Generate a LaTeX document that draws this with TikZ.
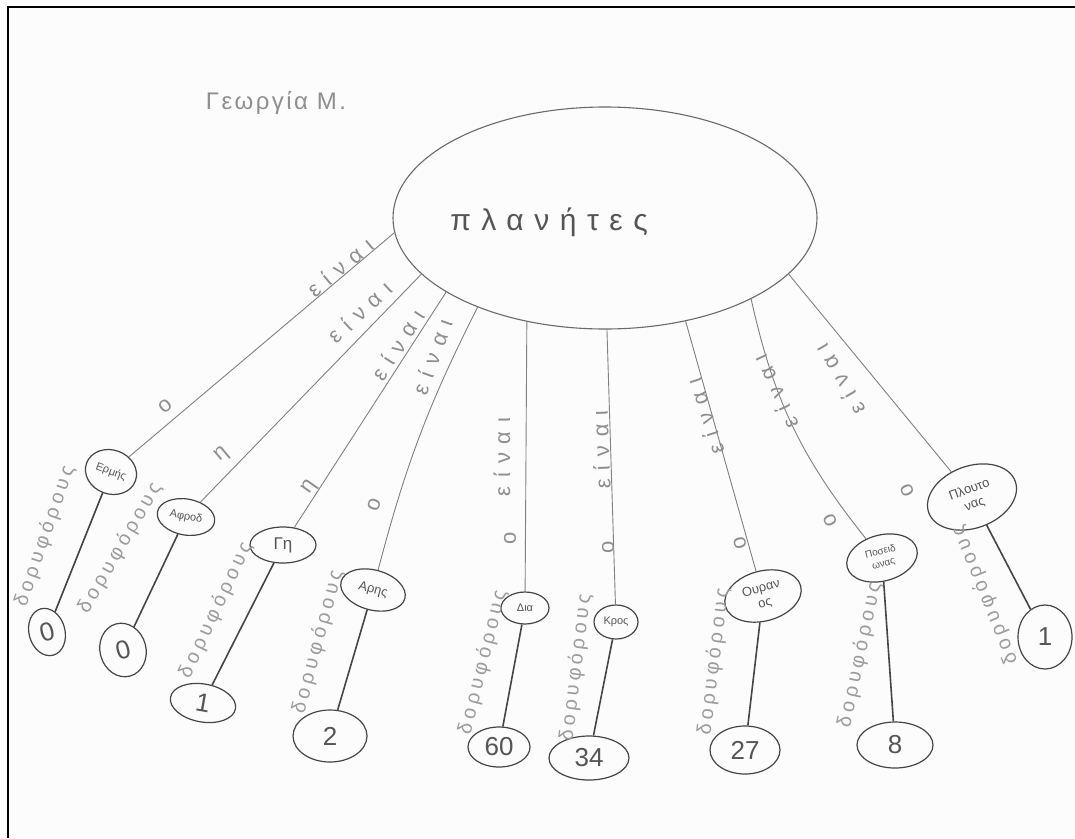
\documentclass[tikz,border=0pt]{standalone}
\usepackage{fontspec}
\setmainfont{Liberation Sans}
\newfontfamily\handA[LetterSpace=40]{Liberation Sans}
\newfontfamily\handB[LetterSpace=20]{Liberation Sans}
\newfontfamily\handC[LetterSpace=35]{Liberation Sans}
\newfontfamily\handD[LetterSpace=10]{Liberation Sans}
\usetikzlibrary{shapes.geometric}
\definecolor{paper}{HTML}{FDFCFD}
\definecolor{pencil}{HTML}{808080}
\definecolor{dark}{HTML}{454545}
\definecolor{outline}{HTML}{6A6A6A}
\definecolor{ink}{HTML}{555555}
\definecolor{light}{HTML}{8E8E8E}
\definecolor{lighter}{HTML}{9C9C9C}
\begin{document}
\begin{tikzpicture}[x=1pt,y=-1pt,
  conn/.style={draw=pencil, line width=0.9pt},
  stem/.style={draw=dark, line width=1.6pt},
  bigell/.style={ellipse, draw=outline, line width=1.1pt, minimum width=424pt, minimum height=222pt, inner sep=0pt},
  pnode/.style={ellipse, draw=dark, line width=1.2pt, inner sep=0pt, font=\fontsize{11}{11}\selectfont, text=ink, align=center},
  nnode/.style={ellipse, draw=dark, line width=1.2pt, inner sep=0pt, font=\fontsize{26}{26}\selectfont, text=ink},
  einai/.style={font=\handA\fontsize{22}{22}\selectfont, text=light, inner sep=0pt},
  art/.style={font=\fontsize{22}{22}\selectfont, text=light, inner sep=0pt},
  dor/.style={font=\handB\fontsize{20}{20}\selectfont, text=lighter, inner sep=0pt},
  maintext/.style={font=\handC\fontsize{30}{30}\selectfont, text=ink, inner sep=0pt},
  titletext/.style={font=\handD\fontsize{24}{24}\selectfont, text=light, inner sep=0pt},
  frame/.style={draw=black, line width=2.5pt}
]
\useasboundingbox (0,0) rectangle (1075,838);
\fill[paper] (0,0) rectangle (1075,838);
\draw[frame] (8,838) -- (8,7) -- (1075,7);

% title and central concept
\node[titletext] (title) at (276,103) {Γεωργία Μ.};
\node[bigell] (pl) at (605,218) {};
\node[maintext] (plt) at (549,222) {πλανήτες};

% planets
\node[pnode, minimum width=52pt, minimum height=44pt, rotate=-20] (erm) at (111,472) {Ερμής};
\node[pnode, minimum width=58pt, minimum height=36pt, rotate=-10] (afr) at (186,517) {Αφροδ};
\node[pnode, minimum width=66pt, minimum height=36pt, font=\fontsize{17}{17}\selectfont] (gi) at (283,545) {Γη};
\node[pnode, minimum width=66pt, minimum height=40pt, rotate=-15, font=\fontsize{13}{13}\selectfont] (ari) at (373,590) {Αρης};
\node[pnode, minimum width=48pt, minimum height=32pt] (dia) at (525,608) {Δια};
\node[pnode, minimum width=44pt, minimum height=34pt] (kro) at (616,622) {Κρος};
\node[pnode, minimum width=78pt, minimum height=50pt, rotate=15, font=\fontsize{13}{15}\selectfont] (our) at (763,596) {Ουραν\\ος};
\node[pnode, minimum width=72pt, minimum height=46pt, rotate=15, font=\fontsize{10}{12.5}\selectfont] (pos) at (882,558) {Ποσειδ\\ωνας};
\node[pnode, minimum width=92pt, minimum height=62pt, rotate=20, font=\fontsize{13}{15.5}\selectfont] (plu) at (972,497) {Πλουτο\\νας};

% numbers
\node[nnode, minimum width=36pt, minimum height=48pt, rotate=15] (n1) at (47,632) {0};
\node[nnode, minimum width=46pt, minimum height=54pt, rotate=15] (n2) at (123,650) {0};
\node[nnode, minimum width=66pt, minimum height=38pt, rotate=-10] (n3) at (203,703) {1};
\node[nnode, minimum width=74pt, minimum height=52pt] (n4) at (330,736) {2};
\node[nnode, minimum width=62pt, minimum height=40pt] (n5) at (499,747) {60};
\node[nnode, minimum width=80pt, minimum height=44pt] (n6) at (589,758) {34};
\node[nnode, minimum width=70pt, minimum height=48pt] (n7) at (745,750) {27};
\node[nnode, minimum width=76pt, minimum height=46pt] (n8) at (895,745) {8};
\node[nnode, minimum width=54pt, minimum height=64pt] (n9) at (1045,637) {1};

% connectors from the central concept
\draw[conn] (pl.184) -- (erm);
\draw[conn] (pl.197) -- (afr);
\draw[conn] (pl.205) -- (gi);
\draw[conn] (pl.215) to[bend right=6] (ari);
\draw[conn] (pl.233) -- (dia);
\draw[conn] (pl.271) -- (kro);
\draw[conn] (pl.308) -- (our);
\draw[conn] (pl.331) to[bend right=13] (pos);
\draw[conn] (pl.343) -- (plu);

% stems to numbers
\draw[stem] (erm) -- (n1);
\draw[stem] (afr) -- (n2);
\draw[stem] (gi) -- (n3);
\draw[stem] (ari) -- (n4);
\draw[stem] (dia) -- (n5);
\draw[stem] (kro) -- (n6);
\draw[stem] (our) -- (n7);
\draw[stem] (pos) -- (n8);
\draw[stem] (plu) -- (n9);

% "είναι" labels
\node[einai, rotate=40] (e1) at (340,267) {είναι};
\node[einai, rotate=43] (e2) at (360,312) {είναι};
\node[einai, rotate=57] (e3) at (398,345) {είναι};
\node[einai, rotate=70] (e4) at (432,357) {είναι};
\node[einai, rotate=90] (e5) at (502,457) {είναι};
\node[einai, rotate=92] (e6) at (601,450) {είναι};
\node[einai, rotate=108] (e7) at (705,417) {είναι};
\node[einai, rotate=115] (e8) at (775,392) {είναι};
\node[einai, rotate=120] (e9) at (840,380) {είναι};

% articles
\node[art, rotate=40] (a1) at (165,406) {ο};
\node[art, rotate=40] (a2) at (222,455) {η};
\node[art, rotate=55] (a3) at (310,487) {η};
\node[art, rotate=70] (a4) at (374,505) {ο};
\node[art, rotate=90] (a5) at (510,538) {ο};
\node[art, rotate=90] (a6) at (608,547) {ο};
\node[art, rotate=105] (a7) at (740,543) {ο};
\node[art, rotate=115] (a8) at (830,520) {ο};
\node[art, rotate=115] (a9) at (907,490) {ο};

% "δορυφόρους" labels
\node[dor, rotate=71] (d1) at (45,536) {δορυφόρους};
\node[dor, rotate=60] (d2) at (120,548) {δορυφόρους};
\node[dor, rotate=65] (d3) at (216,610) {δορυφόρους};
\node[dor, rotate=75] (d4) at (318,642) {δορυφόρους};
\node[dor, rotate=76] (d5) at (483,662) {δορυφόρους};
\node[dor, rotate=83] (d6) at (576,668) {δορυφόρους};
\node[dor, rotate=83] (d7) at (714,662) {δορυφόρους};
\node[dor, rotate=78] (d8) at (860,655) {δορυφόρους};
\node[dor, rotate=112] (d9) at (985,595) {δορυφόρους};
\end{tikzpicture}
\end{document}
